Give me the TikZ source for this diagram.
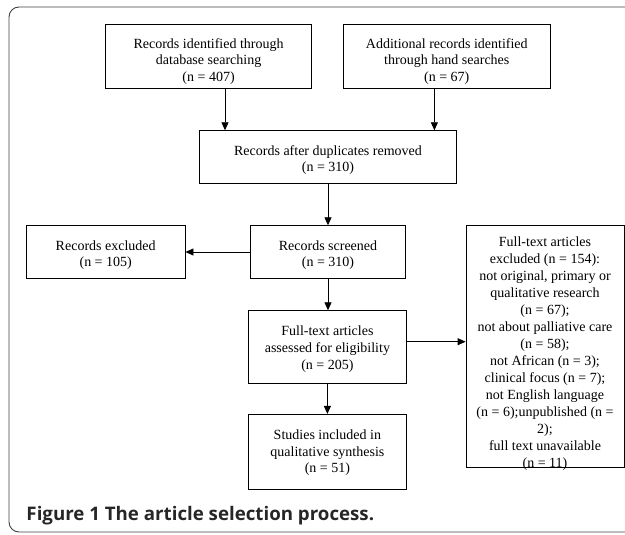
\documentclass[tikz,border=0pt]{standalone}
\usepackage{fontspec}
\setmainfont{Liberation Serif}
\newfontfamily\capfont{Open Sans}
\usetikzlibrary{arrows.meta}
\newcommand{\tstrut}[1][16pt]{\rule{0pt}{#1}}

\begin{document}
\begin{tikzpicture}[x=1pt,y=-1pt,
        box/.style={draw=black, line width=0.8pt, align=center, inner sep=0pt,
          font=\fontsize{14}{16.6}\selectfont},
        arr/.style={-{Triangle[length=8pt,width=7pt]}, line width=0.8pt}]
        \useasboundingbox (0,0) rectangle (625,535);
        \draw [black!75, line width=0.9pt, rounded corners=10pt] (660,7) -- (9,7) -- (9,532) -- (660,532);
        \node [box, minimum width=206pt, minimum height=64.7pt] (db) at (208.6,56.4)
          {\tstrut[20pt]Records identified through\\database searching\\(n = 407)};
        \node [box, minimum width=206.4pt, minimum height=64.7pt] (hand) at (446.8,56.4)
          {\tstrut[20pt]Additional records identified\\through hand searches\\(n = 67)};
        \node [box, minimum width=257.4pt, minimum height=52.6pt] (dup) at (328,157)
          {\tstrut Records after duplicates removed\\(n = 310)};
        \node [box, minimum width=155.4pt, minimum height=52.6pt] (scr) at (328,252)
          {\tstrut Records screened\\(n = 310)};
        \node [box, minimum width=158.7pt, minimum height=52.6pt] (excl) at (105.7,252)
          {\tstrut Records excluded\\(n = 105)};
        \node [box, minimum width=158.2pt, minimum height=72.6pt] (elig) at (327.4,347)
          {\tstrut[14pt]Full-text articles\\assessed for eligibility\\(n = 205)};
        \node [box, minimum width=158pt, font=\fontsize{14}{17}\selectfont] (ftex) at (545,346)
          {\tstrut[21pt]Full-text articles\\excluded (n = 154):\\not original, primary or\\qualitative research\\(n = 67);\\not about palliative care\\(n = 58);\\not African (n = 3);\\clinical focus (n = 7);\\not English language\\(n = 6);unpublished (n =\\2);\\full text unavailable\\\smash{(n = 11)}};
        \node [box, minimum width=158.2pt, minimum height=74.7pt] (incl) at (327.4,451.7)
          {\tstrut[12pt]Studies included in\\qualitative synthesis\\(n = 51)};
        \draw [arr] ([xshift=16.4pt]db.south) -- ([xshift=16.4pt]db.south |- dup.north);
        \draw [arr] ([xshift=-12.4pt]hand.south) -- ([xshift=-12.4pt]hand.south |- dup.north);
        \draw [arr] (dup.south) -- (scr.north);
        \draw [arr] (scr.west) -- (excl.east);
        \draw [arr] (scr.south) -- (scr.south |- elig.north);
        \draw [arr] ([yshift=5.3pt]elig.east) -- ([yshift=5.3pt]elig.east -| ftex.west);
        \draw [arr] (elig.south) -- (incl.north);
        \node [anchor=base west, inner sep=0pt, text=black!85,
          font=\capfont\bfseries\fontsize{18.7}{22}\selectfont] (cap) at (26.3,520)
          {Figure 1 The article selection process.};
\end{tikzpicture}
\end{document}
